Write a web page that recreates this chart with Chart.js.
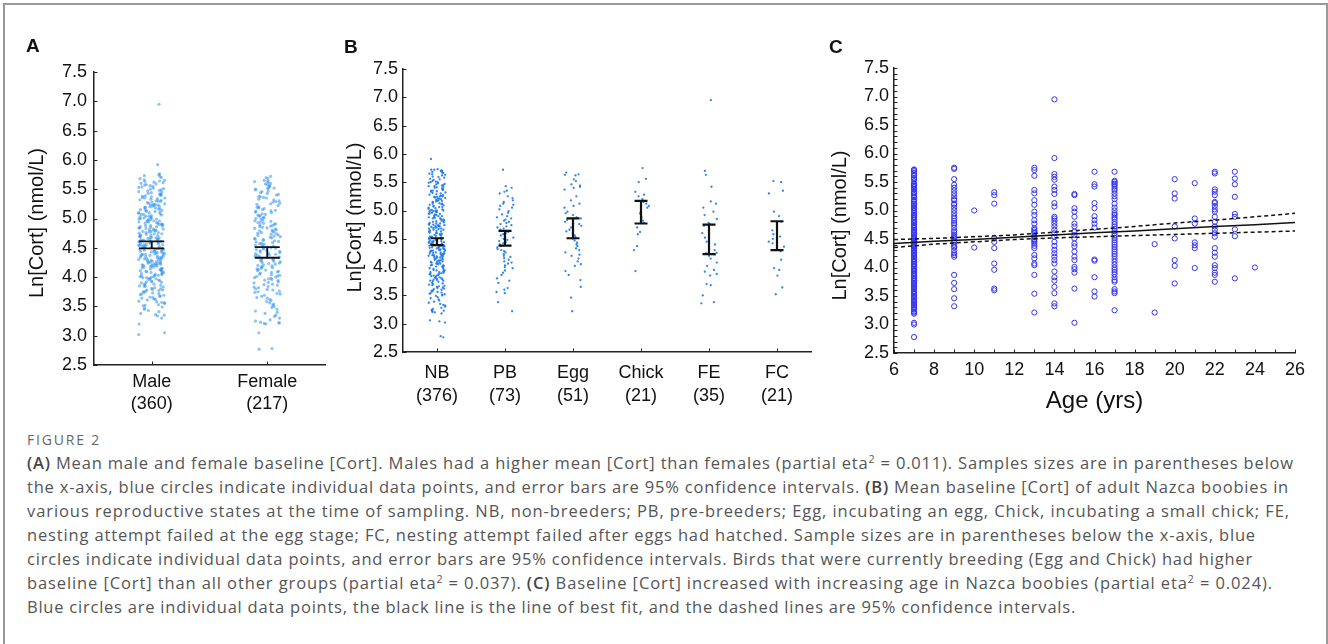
<!DOCTYPE html>
<html>
<head>
<meta charset="utf-8">
<script src="https://cdn.jsdelivr.net/npm/chart.js@4.4.1/dist/chart.umd.min.js"></script>
<style>
  body { margin: 0; width: 1328px; height: 644px; overflow: hidden; position: relative; background: #fff; }
  .frame { position: absolute; left: 3px; top: 3px; width: 1321px; height: 700px; border: 2px solid #999; border-bottom: none; }
  canvas { position: absolute; top: 0; }
  .tag { position: absolute; top: 36px; font: bold 19px/19px "Liberation Sans", Arial, sans-serif; color: #111; }
  .fig { position: absolute; left: 27px; top: 431px; font: 14px/18px "Open Sans", sans-serif; color: #666; white-space: nowrap; }
  .cap { position: absolute; left: 27px; top: 451px; font: 16.5px/24px "Open Sans", sans-serif; color: #555; }
  .cap div { white-space: nowrap; height: 24px; }
  .cap b { font-weight: 600; color: #444; }
  .cap sup { font-size: 10.5px; line-height: 0; vertical-align: 6px; }
</style>
</head>
<body>
<div class="frame"></div>
<canvas id="chartA" width="340" height="430" style="left:0px"></canvas>
<canvas id="chartB" width="490" height="430" style="left:330px"></canvas>
<canvas id="chartC" width="505" height="430" style="left:815px"></canvas>
<div class="tag" style="left:26px">A</div>
<div class="tag" style="left:344px;top:37px">B</div>
<div class="tag" style="left:829px;top:37px">C</div>

<div class="fig"><span>FIGURE 2</span></div>
<div class="cap">
  <div><span><b>(A)</b> Mean male and female baseline [Cort]. Males had a higher mean [Cort] than females (partial eta<sup>2</sup> = 0.011). Samples sizes are in parentheses below</span></div>
  <div><span>the x-axis, blue circles indicate individual data points, and error bars are 95% confidence intervals. <b>(B)</b> Mean baseline [Cort] of adult Nazca boobies in</span></div>
  <div><span>various reproductive states at the time of sampling. NB, non-breeders; PB, pre-breeders; Egg, incubating an egg, Chick, incubating a small chick; FE,</span></div>
  <div><span>nesting attempt failed at the egg stage; FC, nesting attempt failed after eggs had hatched. Sample sizes are in parentheses below the x-axis, blue</span></div>
  <div><span>circles indicate individual data points, and error bars are 95% confidence intervals. Birds that were currently breeding (Egg and Chick) had higher</span></div>
  <div><span>baseline [Cort] than all other groups (partial eta<sup>2</sup> = 0.037). <b>(C)</b> Baseline [Cort] increased with increasing age in Nazca boobies (partial eta<sup>2</sup> = 0.024).</span></div>
  <div><span>Blue circles are individual data points, the black line is the line of best fit, and the dashed lines are 95% confidence intervals.</span></div>
</div>

<script>
// ---- data ----
const yTicks = [2.5, 3.0, 3.5, 4.0, 4.5, 5.0, 5.5, 6.0, 6.5, 7.0, 7.5];

// Panel A
const sexLabels = ["Male", "Female"];
const sexN = [360, 217];
const sexCiLow = [4.49, 4.33];
const sexCiHigh = [4.61, 4.51];
const maleCort = [
  3.02,3.05,3.20,3.30,3.34,3.35,3.36,3.38,3.41,3.43,3.45,3.47,3.49,
  3.51,3.52,3.53,3.55,3.56,3.57,3.58,3.59,3.61,3.62,3.63,3.64,3.65,3.66,3.67,3.68,3.69,3.70,3.71,3.72,3.73,3.74,
  3.75,3.76,3.77,3.78,3.78,3.79,3.80,3.81,3.82,3.83,3.84,3.85,3.85,3.86,3.87,3.88,3.89,3.90,3.91,3.92,3.92,3.93,3.94,3.95,3.96,3.97,3.97,3.98,3.99,3.99,
  4.00,4.01,4.01,4.02,4.03,4.03,4.04,4.05,4.06,4.06,4.07,4.08,4.08,4.09,4.10,4.10,4.11,4.12,4.12,4.13,4.14,4.15,4.15,4.16,4.17,4.17,4.18,4.19,4.19,4.20,4.20,4.21,4.21,4.22,4.22,4.23,4.23,4.24,4.24,4.25,
  4.26,4.26,4.27,4.27,4.28,4.29,4.29,4.30,4.30,4.31,4.31,4.32,4.33,4.33,4.34,4.34,4.35,4.35,4.36,4.37,4.37,4.38,4.38,4.39,4.39,4.40,4.40,4.41,4.42,4.42,4.43,4.43,4.44,4.44,4.45,4.46,4.46,4.47,4.47,4.48,4.49,4.49,
  4.50,4.50,4.51,4.51,4.52,4.53,4.53,4.54,4.54,4.55,4.55,4.56,4.57,4.57,4.58,4.58,4.59,4.60,4.60,4.61,4.61,4.62,4.62,4.63,4.64,4.64,4.65,4.65,4.66,4.67,4.67,4.68,4.68,4.69,4.70,4.70,4.71,4.72,4.72,4.73,4.74,4.74,
  4.75,4.76,4.76,4.77,4.78,4.78,4.79,4.80,4.80,4.81,4.82,4.82,4.83,4.84,4.84,4.85,4.86,4.86,4.87,4.88,4.88,4.89,4.90,4.90,4.91,4.92,4.92,4.93,4.94,4.94,4.95,4.96,4.96,4.97,4.98,4.98,4.99,4.99,
  5.00,5.01,5.01,5.02,5.03,5.04,5.04,5.05,5.06,5.07,5.07,5.08,5.09,5.10,5.10,5.11,5.12,5.13,5.13,5.14,5.15,5.16,5.16,5.17,5.18,5.19,5.19,5.20,5.21,5.21,5.22,5.23,5.23,5.24,5.24,
  5.25,5.26,5.27,5.28,5.29,5.30,5.30,5.31,5.32,5.33,5.34,5.35,5.35,5.36,5.37,5.38,5.39,5.40,5.40,5.41,5.42,5.43,5.44,5.45,5.46,5.47,5.48,5.49,
  5.50,5.51,5.52,5.53,5.54,5.55,5.56,5.57,5.58,5.59,5.60,5.61,5.62,5.63,5.64,5.65,5.66,5.68,5.70,5.72,5.73,5.75,
  5.76,5.92,6.95
];
const femaleCort = [
  2.77,2.78,3.05,
  3.20,3.21,3.22,3.22,3.23,3.25,3.27,3.30,3.33,3.35,3.38,3.40,3.42,3.45,3.48,
  3.50,3.52,3.54,3.56,3.58,3.60,3.62,3.64,3.65,3.67,3.69,3.71,3.72,3.74,
  3.75,3.76,3.78,3.79,3.80,3.82,3.83,3.84,3.86,3.87,3.88,3.90,3.91,3.92,3.94,3.95,3.96,3.97,3.98,3.99,
  4.00,4.01,4.02,4.03,4.04,4.05,4.07,4.08,4.09,4.10,4.11,4.12,4.13,4.14,4.15,4.16,4.17,4.18,4.19,4.20,4.21,4.22,4.23,4.24,
  4.25,4.26,4.27,4.28,4.29,4.30,4.31,4.32,4.33,4.34,4.35,4.36,4.37,4.38,4.39,4.40,4.41,4.42,4.43,4.44,4.45,4.46,4.47,4.48,4.49,4.49,
  4.50,4.51,4.52,4.53,4.54,4.55,4.56,4.57,4.58,4.59,4.60,4.61,4.62,4.63,4.64,4.65,4.66,4.67,4.68,4.69,4.70,4.71,4.72,4.73,4.74,
  4.75,4.76,4.77,4.78,4.79,4.80,4.81,4.82,4.83,4.84,4.85,4.86,4.87,4.88,4.89,4.90,4.91,4.92,4.93,4.94,4.95,4.96,4.97,4.99,
  5.00,5.01,5.02,5.04,5.05,5.06,5.07,5.08,5.10,5.11,5.12,5.13,5.14,5.15,5.17,5.18,5.19,5.20,5.22,5.24,
  5.25,5.26,5.28,5.29,5.30,5.32,5.33,5.35,5.36,5.37,5.38,5.40,5.41,5.43,5.44,5.46,5.47,5.49,
  5.50,5.51,5.52,5.53,5.55,5.56,5.58,5.59,5.60,5.62,5.63,5.64,5.65,5.68,5.70,5.72
];

// Panel B
const stateLabels = ["NB", "PB", "Egg", "Chick", "FE", "FC"];
const stateN = [376, 73, 51, 21, 35, 21];
const stateCiLow = [4.39, 4.38, 4.51, 4.77, 4.23, 4.30];
const stateCiHigh = [4.51, 4.64, 4.86, 5.17, 4.75, 4.81];
const nbCort = [
  2.76,2.78,3.02,3.04,3.06,
  3.18,3.20,3.21,3.22,3.23,3.24,3.26,3.28,3.30,3.32,3.33,3.35,3.37,3.39,3.41,3.43,3.45,3.47,3.49,
  3.50,3.51,3.52,3.53,3.54,3.55,3.56,3.57,3.58,3.59,3.60,3.61,3.62,3.63,3.64,3.65,3.66,3.67,3.68,3.69,3.70,3.71,3.72,3.74,
  3.75,3.76,3.76,3.77,3.78,3.79,3.79,3.80,3.81,3.82,3.82,3.83,3.84,3.85,3.85,3.86,3.87,3.88,3.88,3.89,3.90,3.91,3.91,3.92,3.93,3.94,3.94,3.95,3.96,3.97,3.98,3.99,
  4.00,4.01,4.01,4.02,4.03,4.03,4.04,4.05,4.06,4.06,4.07,4.08,4.08,4.09,4.10,4.10,4.11,4.12,4.12,4.13,4.14,4.15,4.15,4.16,4.17,4.17,4.18,4.19,4.19,4.20,4.20,4.21,4.21,4.22,4.22,4.23,4.23,4.24,4.24,4.25,
  4.26,4.26,4.27,4.27,4.28,4.29,4.29,4.30,4.30,4.31,4.31,4.32,4.33,4.33,4.34,4.34,4.35,4.35,4.36,4.37,4.37,4.38,4.38,4.39,4.39,4.40,4.40,4.41,4.42,4.42,4.43,4.43,4.44,4.44,4.45,4.46,4.46,4.47,4.47,4.48,4.49,4.49,
  4.50,4.51,4.51,4.52,4.53,4.54,4.54,4.55,4.56,4.57,4.57,4.58,4.59,4.60,4.60,4.61,4.62,4.63,4.63,4.64,4.65,4.66,4.66,4.67,4.68,4.68,4.69,4.70,4.70,4.71,4.72,4.72,4.73,4.73,4.74,4.74,4.75,4.75,
  4.76,4.77,4.77,4.78,4.79,4.80,4.81,4.81,4.82,4.83,4.84,4.85,4.86,4.86,4.87,4.88,4.89,4.90,4.90,4.91,4.92,4.93,4.94,4.94,4.95,4.96,4.97,4.97,4.98,4.99,4.99,5.00,5.00,5.00,
  5.01,5.02,5.03,5.04,5.05,5.06,5.06,5.07,5.08,5.09,5.10,5.11,5.12,5.12,5.13,5.14,5.15,5.16,5.17,5.17,5.18,5.19,5.20,5.21,5.21,5.22,5.23,5.24,5.24,5.25,5.25,5.26,
  5.27,5.28,5.29,5.30,5.31,5.32,5.33,5.34,5.35,5.35,5.36,5.37,5.38,5.39,5.40,5.41,5.42,5.43,5.43,5.44,5.45,5.46,5.47,5.48,5.49,5.50,5.50,
  5.51,5.52,5.54,5.55,5.56,5.58,5.59,5.60,5.62,5.63,5.64,5.65,5.66,5.67,5.68,5.69,5.70,5.70,5.71,5.72,5.72,5.73,
  5.91
];
const pbCort = [
  3.22,3.38,3.54,3.56,3.60,3.63,3.72,3.76,3.80,3.86,3.90,3.94,3.98,4.00,4.03,4.06,4.08,4.10,4.13,4.16,
  4.18,4.20,4.23,4.26,4.28,4.30,4.32,4.35,4.37,4.40,4.42,4.44,4.46,4.48,4.50,4.52,4.54,4.56,4.58,4.60,
  4.62,4.64,4.66,4.68,4.70,4.72,4.74,4.76,4.78,4.80,4.82,4.84,4.86,4.88,4.90,4.93,4.96,4.99,5.02,5.05,
  5.08,5.10,5.12,5.15,5.18,5.22,5.25,5.30,5.33,5.35,5.40,5.43,5.72
];
const eggCort = [
  3.22,3.46,3.65,3.77,3.86,3.93,4.02,4.05,4.10,4.15,4.20,4.22,4.26,4.30,4.33,4.37,4.40,4.43,4.47,4.50,
  4.53,4.56,4.60,4.63,4.66,4.70,4.73,4.76,4.80,4.83,4.86,4.88,4.92,4.95,4.98,5.05,5.08,5.12,5.18,5.25,
  5.37,5.40,5.42,5.44,5.46,5.52,5.55,5.62,5.63,5.64,5.67
];
const chickCort = [3.93,4.30,4.37,4.58,4.62,4.70,4.78,4.82,4.88,4.95,5.05,5.08,5.12,5.15,5.20,5.25,5.28,5.33,5.50,5.56,5.75];
const feCort = [3.36,3.38,3.50,3.68,3.70,3.85,3.88,3.92,3.95,4.02,4.08,4.15,4.20,4.22,4.24,4.25,4.26,4.30,4.40,4.45,
  4.52,4.60,4.73,4.76,4.78,4.85,4.92,4.98,5.05,5.12,5.16,5.42,5.63,5.70,6.95];
const fcCort = [3.52,3.64,3.85,3.95,3.98,4.13,4.28,4.36,4.42,4.45,4.50,4.54,4.58,4.65,4.80,4.90,4.98,5.30,5.35,5.50,5.52];
const stateCort = [nbCort, pbCort, eggCort, chickCort, feCort, fcCort];

// Panel C
const ageTicks = [6, 8, 10, 12, 14, 16, 18, 20, 22, 24, 26];
const ages = [7, 9, 10, 11, 13, 14, 15, 16, 17, 19, 20, 21, 22, 23, 24];
const cortByAge = [
  [5.72,5.71,5.69,5.66,5.62,5.61,5.57,5.55,5.51,5.47,5.46,5.44,5.43,5.41,5.38,5.37,5.33,5.31,5.30,5.27,5.24,5.23,5.19,5.17,5.15,5.12,5.11,5.08,5.05,5.04,
   5.01,4.99,4.96,4.93,4.92,4.89,4.87,4.84,4.83,4.80,4.78,4.75,4.73,4.71,4.69,4.66,4.65,4.62,4.60,4.58,4.55,4.53,4.51,4.49,4.47,4.45,4.43,4.42,4.39,4.37,
   4.36,4.33,4.31,4.29,4.26,4.25,4.22,4.20,4.18,4.15,4.14,4.11,4.09,4.06,4.05,4.02,4.00,3.97,3.95,3.94,3.91,3.89,3.86,3.85,3.82,3.80,3.77,3.76,3.73,3.71,
   3.69,3.66,3.64,3.62,3.59,3.57,3.55,3.53,3.50,3.48,3.46,3.43,3.41,3.39,3.36,3.34,3.31,3.29,3.26,3.23,3.21,3.19,3.03,3.00,2.78],
  [5.75,5.73,5.55,5.45,5.40,5.35,5.30,5.25,5.20,5.18,5.12,5.10,5.05,5.00,4.95,4.90,4.86,4.82,4.78,4.75,4.70,4.65,4.62,4.58,4.55,
   4.52,4.48,4.45,4.40,4.37,4.35,4.30,4.25,4.22,4.19,3.87,3.73,3.62,3.46,3.32],
  [5.00,4.35],
  [5.32,5.27,5.12,4.52,4.45,4.34,4.07,3.96,3.63,3.60],
  [5.75,5.71,5.61,5.36,5.30,5.18,5.10,4.98,4.92,4.83,4.77,4.69,4.66,4.63,4.60,4.55,4.54,4.50,4.48,4.45,4.42,4.38,4.34,4.22,4.16,
   4.07,4.04,3.87,3.54,3.21],
  [6.95,5.92,5.64,5.59,5.54,5.42,5.36,5.29,5.13,5.07,4.89,4.86,4.82,4.77,4.72,4.66,4.60,4.54,4.45,4.38,4.31,4.25,4.19,4.13,4.07,
   3.93,3.83,3.77,3.66,3.55,3.37,3.32],
  [5.29,5.27,5.04,4.98,4.89,4.77,4.72,4.63,4.57,4.51,4.42,4.37,4.28,4.19,4.13,4.01,3.97,3.91,3.63,3.03],
  [5.68,5.46,5.42,5.13,5.04,4.90,4.83,4.77,4.70,4.14,4.12,3.83,3.58,3.49],
  [5.68,5.52,5.50,5.47,5.45,5.42,5.38,5.35,5.30,5.25,5.20,5.12,5.05,5.00,4.95,4.92,4.88,4.85,4.80,4.76,4.72,4.68,4.64,4.60,4.56,
   4.52,4.48,4.44,4.40,4.36,4.32,4.28,4.24,4.20,4.15,4.10,4.05,4.00,3.96,3.92,3.88,3.83,3.78,3.75,3.62,3.58,3.55,3.25],
  [4.41,3.21],
  [5.55,5.30,5.21,4.72,4.51,4.13,4.03,3.72],
  [5.48,4.86,4.77,4.44,4.39,4.34,3.99],
  [5.68,5.65,5.37,5.33,5.27,5.15,5.13,5.08,5.02,4.98,4.89,4.80,4.72,4.66,4.60,4.54,4.34,4.26,4.19,4.04,3.99,3.91,3.87,3.75],
  [5.68,5.56,5.46,5.24,4.94,4.89,4.67,4.55,3.81],
  [4.00]
];
const fitAge = [6, 8, 10, 12, 14, 16, 18, 20, 22, 24, 26];
const fitMean = [4.42, 4.46, 4.49, 4.53, 4.57, 4.61, 4.64, 4.68, 4.72, 4.75, 4.79];
const fitUpper = [4.49, 4.51, 4.54, 4.57, 4.62, 4.67, 4.72, 4.78, 4.83, 4.89, 4.95];
const fitLower = [4.35, 4.41, 4.45, 4.49, 4.52, 4.54, 4.56, 4.58, 4.60, 4.62, 4.64];

// ---- helpers ----
Chart.defaults.font.family = '"Liberation Sans", Arial, sans-serif';
Chart.defaults.color = "#111";

// sideways spread of the dots around the category centre (layout only, fixed hash)
const jitter = (i, w) => {
  const s = Math.sin(i * 12.9898 + 4.1414) * 43758.5453;
  return (s - Math.floor(s) - 0.5) * 2 * w;
};

function steps(a, b, s) {
  const out = [];
  for (let v = a; v <= b + 1e-9; v += s) out.push(+v.toFixed(3));
  return out;
}

function yScale(width, pad) {
  return {
    min: 2.5, max: 7.5,
    afterBuildTicks: s => { s.ticks = yTicks.map(v => ({ value: v })); },
    afterFit: s => { s.width = width; },
    grid: { display: false, drawTicks: false },
    border: { display: true, color: "#222", width: 1.5 },
    ticks: { padding: pad, font: { size: 18 }, callback: v => v.toFixed(1) }
  };
}

const yTitle = (cx, cy) => ({
  id: "yTitle",
  afterDraw(chart) {
    const ctx = chart.ctx;
    ctx.save();
    ctx.translate(cx, cy);
    ctx.rotate(-Math.PI / 2);
    ctx.font = '20px "Liberation Sans", Arial, sans-serif';
    ctx.fillStyle = "#111";
    ctx.textAlign = "center";
    ctx.textBaseline = "middle";
    ctx.fillText("Ln[Cort] (nmol/L)", 0, 0);
    ctx.restore();
  }
});

// ticks pointing into the plot
const innerTicks = (yMinor, xMinor) => ({
  id: "innerTicks",
  afterDraw(chart) {
    const { ctx, chartArea: a, scales: { x, y } } = chart;
    ctx.save();
    ctx.strokeStyle = "#222";
    ctx.lineWidth = 1;
    ctx.beginPath();
    const yv = yMinor ? steps(y.min, y.max, yMinor) : y.ticks.map(t => t.value);
    yv.forEach(v => {
      const py = Math.round(y.getPixelForValue(v)) + 0.5;
      ctx.moveTo(a.left, py); ctx.lineTo(a.left + 3.5, py);
    });
    const xv = xMinor ? steps(x.min, x.max, xMinor) : x.ticks.map(t => t.value);
    xv.forEach(v => {
      const px = Math.round(x.getPixelForValue(v)) + 0.5;
      ctx.moveTo(px, a.bottom); ctx.lineTo(px, a.bottom - 3.5);
    });
    ctx.stroke();
    ctx.restore();
  }
});

const errorBars = (lo, hi, cap, lw) => ({
  id: "errorBars",
  afterDatasetsDraw(chart) {
    const { ctx, scales: { x, y } } = chart;
    ctx.save();
    ctx.strokeStyle = "#111";
    ctx.lineWidth = lw;
    lo.forEach((l, i) => {
      const px = x.getPixelForValue(i);
      const y1 = y.getPixelForValue(l);
      const y2 = y.getPixelForValue(hi[i]);
      ctx.beginPath();
      ctx.moveTo(px, y1); ctx.lineTo(px, y2);
      ctx.moveTo(px - cap, y1); ctx.lineTo(px + cap, y1);
      ctx.moveTo(px - cap, y2); ctx.lineTo(px + cap, y2);
      ctx.stroke();
    });
    ctx.restore();
  }
});

function categoryX(labels, counts, height, pad, lineHeight) {
  return {
    type: "linear",
    min: -0.5, max: labels.length - 0.5,
    afterBuildTicks: s => { s.ticks = labels.map((_, i) => ({ value: i })); },
    afterFit: s => { s.height = height; },
    grid: { display: false, drawTicks: false },
    border: { display: true, color: "#222", width: 1.5 },
    ticks: {
      padding: pad, autoSkip: false, maxRotation: 0,
      font: { size: 18, lineHeight: lineHeight },
      callback: v => [labels[v], "(" + counts[v] + ")"]
    }
  };
}

const baseOptions = {
  responsive: false,
  animation: false,
  events: [],
  plugins: { legend: { display: false }, tooltip: { enabled: false } }
};

// ---- Panel A ----
new Chart(document.getElementById("chartA"), {
  type: "scatter",
  data: {
    datasets: [maleCort, femaleCort].map((vals, g) => ({
      data: vals.map((v, i) => ({ x: g + jitter(i + 1000 * g, 0.115), y: v })),
      pointRadius: 1.6,
      pointBorderWidth: 0,
      pointBackgroundColor: "rgba(50,145,240,0.55)"
    }))
  },
  options: {
    ...baseOptions,
    layout: { padding: { left: 0, top: 72, right: 15, bottom: 0 } },
    scales: { x: categoryX(sexLabels, sexN, 65, 6, 1.24), y: yScale(94, 7) }
  },
  plugins: [errorBars(sexCiLow, sexCiHigh, 12.5, 1.8), innerTicks(null, null), yTitle(37.5, 223)]
});

// ---- Panel B ----
new Chart(document.getElementById("chartB"), {
  type: "scatter",
  data: {
    datasets: stateCort.map((vals, g) => ({
      data: vals.map((v, i) => ({ x: g + jitter(i + 500 * g + 3, 0.125), y: v })),
      pointRadius: 1.15,
      pointBorderWidth: 0,
      pointBackgroundColor: "rgba(25,120,240,0.9)"
    }))
  },
  options: {
    ...baseOptions,
    layout: { padding: { left: 0, top: 69, right: 9, bottom: 0 } },
    scales: { x: categoryX(stateLabels, stateN, 78, 9.3, 1.3), y: yScale(73, 5) }
  },
  plugins: [errorBars(stateCiLow, stateCiHigh, 6.5, 2.2), innerTicks(null, null), yTitle(25.5, 217.5)]
});

// ---- Panel C ----
const ageDots = [];
ages.forEach((a, g) => cortByAge[g].forEach(v => ageDots.push({ x: a, y: v })));
const fitLine = (ys, dash) => ({
  data: fitAge.map((a, i) => ({ x: a, y: ys[i] })),
  showLine: true,
  pointRadius: 0,
  borderColor: "#111",
  borderWidth: 1.5,
  borderDash: dash
});

new Chart(document.getElementById("chartC"), {
  type: "scatter",
  data: {
    datasets: [
      fitLine(fitMean, []),
      fitLine(fitUpper, [4, 3]),
      fitLine(fitLower, [4, 3]),
      {
        data: ageDots,
        pointRadius: 2.6,
        pointBorderWidth: 1,
        pointBorderColor: "#3434f0",
        pointBackgroundColor: "rgba(0,0,0,0)"
      }
    ]
  },
  options: {
    ...baseOptions,
    layout: { padding: { left: 0, top: 68, right: 25, bottom: 0 } },
    scales: {
      x: {
        type: "linear", min: 6, max: 26,
        afterBuildTicks: s => { s.ticks = ageTicks.map(v => ({ value: v })); },
        afterFit: s => { s.height = 77; },
        grid: { display: false, drawTicks: false },
        border: { display: true, color: "#222", width: 1.5 },
        ticks: { padding: 6, autoSkip: false, maxRotation: 0, font: { size: 18 } },
        title: { display: true, text: "Age (yrs)", font: { size: 24 }, color: "#111", padding: { top: 0, bottom: 14.6 } }
      },
      y: yScale(79, 5)
    }
  },
  plugins: [innerTicks(0.1, 1), yTitle(25, 225.5)]
});

// ---- caption: stretch each line to the width it has in the figure ----
const captionEnds = [1294, 1289, 1290, 1256, 1253, 1273, 1076];
document.querySelectorAll(".cap span").forEach((s, i) => {
  const w = s.getBoundingClientRect().width;
  s.style.letterSpacing = ((captionEnds[i] - 27 - w) / s.textContent.length) + "px";
});
const figLabel = document.querySelector(".fig span");
figLabel.style.letterSpacing = ((74 - figLabel.getBoundingClientRect().width) / 8) + "px";
</script>
</body>
</html>
